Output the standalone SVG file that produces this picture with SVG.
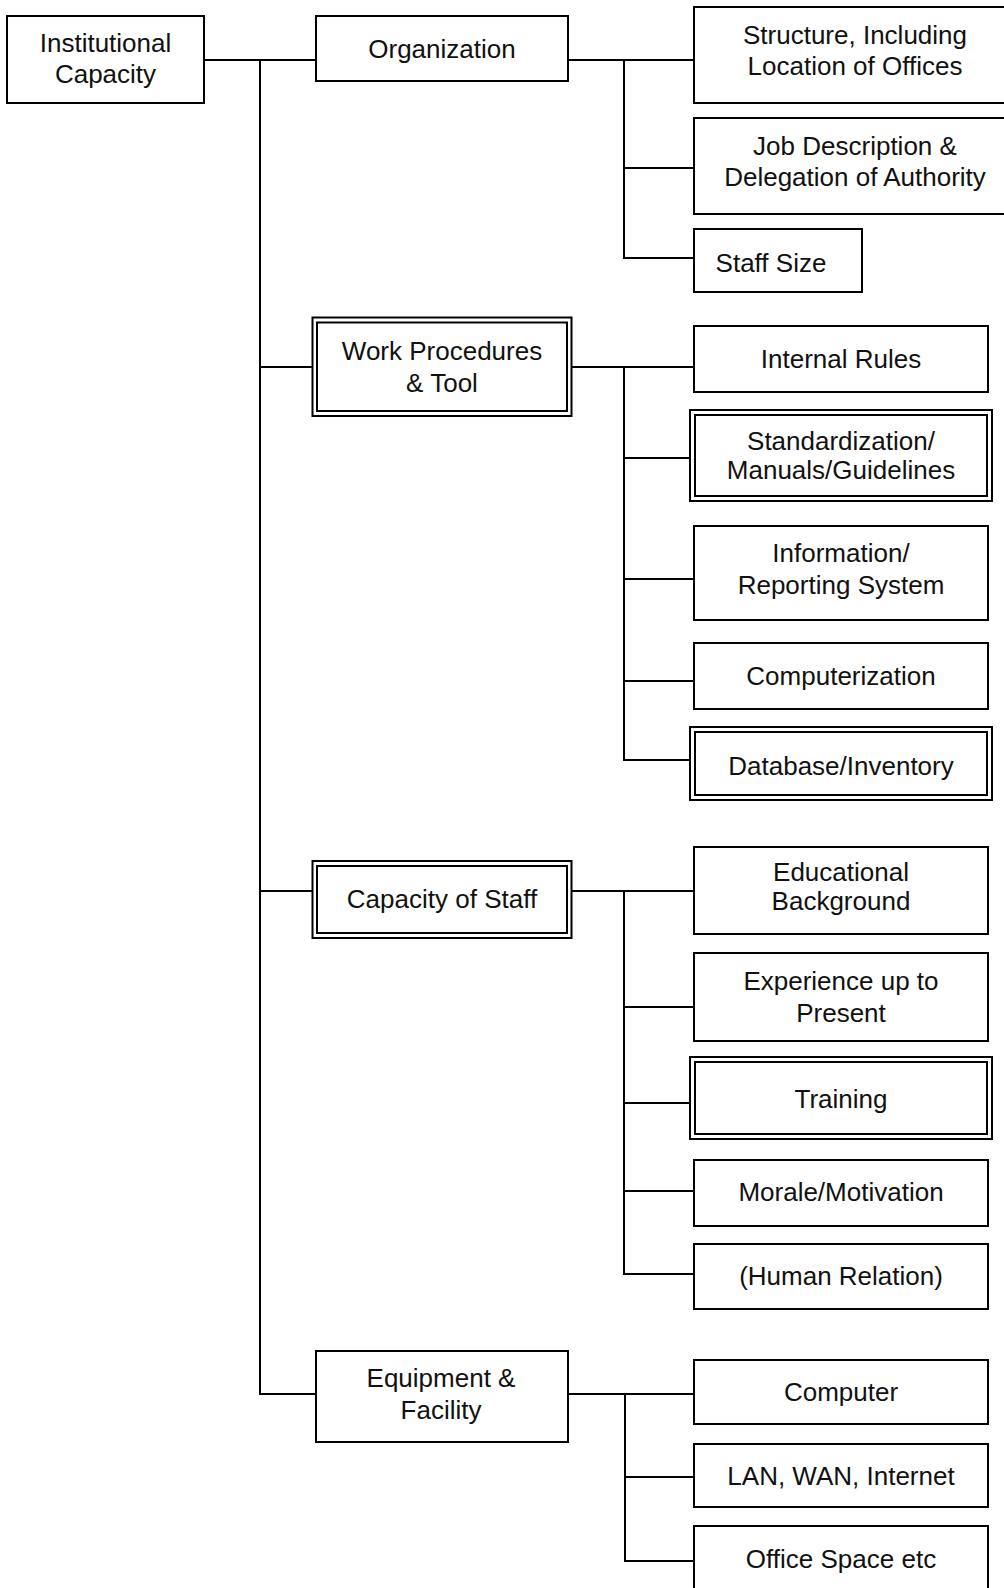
<svg xmlns="http://www.w3.org/2000/svg" width="1004" height="1588" viewBox="0 0 1004 1588">
<style>
.b{fill:#fff;stroke:#000;stroke-width:2}
.o{fill:none;stroke:#000;stroke-width:2}
.c line{stroke:#000;stroke-width:2}
text{font-family:"Liberation Sans",Arial,sans-serif;font-size:26px;fill:#111;text-anchor:middle}
</style>
<rect width="1004" height="1588" fill="#fff"/>
<g class="c" id="connectors">
<line x1="204" y1="60" x2="316" y2="60"/>
<line x1="260" y1="59" x2="260" y2="1395"/>
<line x1="259" y1="367" x2="313" y2="367"/>
<line x1="259" y1="891" x2="313" y2="891"/>
<line x1="259" y1="1394" x2="316" y2="1394"/>
<line x1="568" y1="60" x2="694" y2="60"/>
<line x1="624" y1="59" x2="624" y2="259"/>
<line x1="623" y1="168" x2="694" y2="168"/>
<line x1="623" y1="258" x2="694" y2="258"/>
<line x1="572" y1="367" x2="694" y2="367"/>
<line x1="624" y1="366" x2="624" y2="761"/>
<line x1="623" y1="458" x2="690" y2="458"/>
<line x1="623" y1="579" x2="694" y2="579"/>
<line x1="623" y1="681" x2="694" y2="681"/>
<line x1="623" y1="760" x2="690" y2="760"/>
<line x1="572" y1="891" x2="694" y2="891"/>
<line x1="624" y1="890" x2="624" y2="1275"/>
<line x1="623" y1="1007" x2="694" y2="1007"/>
<line x1="623" y1="1103" x2="690" y2="1103"/>
<line x1="623" y1="1191" x2="694" y2="1191"/>
<line x1="623" y1="1274" x2="694" y2="1274"/>
<line x1="568" y1="1394" x2="694" y2="1394"/>
<line x1="625" y1="1393" x2="625" y2="1562"/>
<line x1="624" y1="1477" x2="694" y2="1477"/>
<line x1="624" y1="1561" x2="694" y2="1561"/>
</g>
<g id="institutional-capacity"><rect class="b" x="7" y="16" width="197" height="87"/><text x="105.5" y="52">Institutional</text><text x="105.5" y="83">Capacity</text></g>
<g id="organization"><rect class="b" x="316" y="16" width="252" height="65"/><text x="442" y="58">Organization</text></g>
<g id="structure"><rect class="b" x="694" y="7" width="322" height="96"/><text x="855" y="44">Structure, Including</text><text x="855" y="75">Location of Offices</text></g>
<g id="job-description"><rect class="b" x="694" y="118" width="322" height="96"/><text x="855" y="155">Job Description &amp;</text><text x="855" y="186">Delegation of Authority</text></g>
<g id="staff-size"><rect class="b" x="694" y="229" width="168" height="63"/><text x="771" y="272">Staff Size</text></g>
<g id="work-procedures"><rect class="o" x="312.5" y="317.5" width="259" height="98.5"/><rect class="b" x="317" y="322.5" width="250" height="88.5"/><text x="442" y="360">Work Procedures</text><text x="442" y="392">&amp; Tool</text></g>
<g id="internal-rules"><rect class="b" x="694" y="326" width="294" height="66"/><text x="841" y="368">Internal Rules</text></g>
<g id="standardization"><rect class="o" x="690" y="410" width="302" height="91"/><rect class="b" x="695" y="415" width="292" height="81"/><text x="841" y="450">Standardization/</text><text x="841" y="479">Manuals/Guidelines</text></g>
<g id="information"><rect class="b" x="694" y="526" width="294" height="94"/><text x="841" y="562">Information/</text><text x="841" y="594">Reporting System</text></g>
<g id="computerization"><rect class="b" x="694" y="643" width="294" height="66"/><text x="841" y="685">Computerization</text></g>
<g id="database"><rect class="o" x="690" y="727" width="302" height="73"/><rect class="b" x="695" y="732" width="292" height="63"/><text x="841" y="775">Database/Inventory</text></g>
<g id="capacity-of-staff"><rect class="o" x="312.5" y="861" width="259" height="77"/><rect class="b" x="317" y="866" width="250" height="67"/><text x="442" y="908">Capacity of Staff</text></g>
<g id="educational-background"><rect class="b" x="694" y="847" width="294" height="87"/><text x="841" y="881">Educational</text><text x="841" y="910">Background</text></g>
<g id="experience"><rect class="b" x="694" y="953" width="294" height="88"/><text x="841" y="990">Experience up to</text><text x="841" y="1022">Present</text></g>
<g id="training"><rect class="o" x="690" y="1057" width="302" height="82"/><rect class="b" x="695" y="1062" width="292" height="72"/><text x="841" y="1108">Training</text></g>
<g id="morale"><rect class="b" x="694" y="1160" width="294" height="66"/><text x="841" y="1201">Morale/Motivation</text></g>
<g id="human-relation"><rect class="b" x="694" y="1244" width="294" height="65"/><text x="841" y="1285">(Human Relation)</text></g>
<g id="equipment"><rect class="b" x="316" y="1351" width="252" height="91"/><text x="441" y="1387">Equipment &amp;</text><text x="441" y="1419">Facility</text></g>
<g id="computer"><rect class="b" x="694" y="1360" width="294" height="64"/><text x="841" y="1401">Computer</text></g>
<g id="lan"><rect class="b" x="694" y="1444" width="294" height="63"/><text x="841" y="1485">LAN, WAN, Internet</text></g>
<g id="office-space"><rect class="b" x="694" y="1526" width="294" height="100"/><text x="841" y="1568">Office Space etc</text></g>
</svg>
